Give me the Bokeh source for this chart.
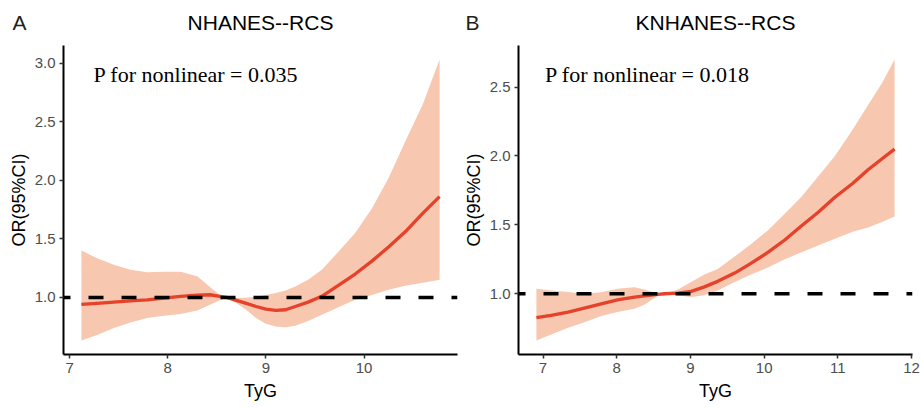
from bokeh.plotting import figure
from bokeh.layouts import row
from bokeh.models import Range1d, FixedTicker, Span, Label, Title, PrintfTickFormatter
from bokeh.embed import file_html
from bokeh.resources import INLINE

# ---- Panel A: NHANES ----
tyg_a = [7.12, 7.28, 7.45, 7.62, 7.79, 7.96, 8.13, 8.30, 8.43, 8.53, 8.60, 8.70, 8.80, 8.90,
         9.00, 9.10, 9.20, 9.30, 9.43, 9.57, 9.75, 9.91, 10.08, 10.25, 10.42, 10.60, 10.77]
or_a  = [0.94, 0.95, 0.96, 0.97, 0.98, 0.995, 1.01, 1.02, 1.023, 1.01, 1.00, 0.975, 0.95, 0.923,
         0.90, 0.889, 0.895, 0.923, 0.96, 1.01, 1.11, 1.20, 1.31, 1.43, 1.56, 1.72, 1.86]
lo_a  = [0.633, 0.68, 0.74, 0.787, 0.824, 0.844, 0.858, 0.889, 0.937, 0.975, 1.00, 0.95, 0.895, 0.824,
         0.776, 0.752, 0.745, 0.758, 0.80, 0.852, 0.92, 0.98, 1.02, 1.066, 1.10, 1.125, 1.15]
hi_a  = [1.40, 1.335, 1.28, 1.236, 1.216, 1.22, 1.22, 1.18, 1.09, 1.02, 1.00, 0.995, 0.997, 1.005,
         1.02, 1.037, 1.06, 1.094, 1.15, 1.236, 1.40, 1.55, 1.76, 2.02, 2.33, 2.65, 3.03]
xticks_a = [7, 8, 9, 10]
yticks_a = [1.0, 1.5, 2.0, 2.5, 3.0]

# ---- Panel B: KNHANES ----
tyg_b = [6.91, 7.11, 7.34, 7.56, 7.79, 8.01, 8.24, 8.38, 8.56, 8.65, 8.83, 9.01, 9.19, 9.37,
         9.60, 9.82, 10.05, 10.28, 10.50, 10.73, 10.96, 11.20, 11.41, 11.60, 11.77]
or_b  = [0.826, 0.843, 0.867, 0.896, 0.927, 0.956, 0.975, 0.985, 0.995, 1.00, 1.005, 1.017, 1.05, 1.09,
         1.15, 1.22, 1.30, 1.39, 1.49, 1.59, 1.70, 1.80, 1.90, 1.98, 2.05]
lo_b  = [0.661, 0.705, 0.753, 0.794, 0.838, 0.867, 0.891, 0.922, 0.987, 1.00, 0.988, 0.976, 0.99, 1.024,
         1.085, 1.14, 1.19, 1.25, 1.30, 1.35, 1.40, 1.45, 1.48, 1.52, 1.56]
hi_b  = [1.036, 1.024, 1.012, 1.00, 1.01, 1.036, 1.048, 1.03, 1.00, 1.00, 1.03, 1.085, 1.14, 1.18,
         1.27, 1.36, 1.46, 1.58, 1.70, 1.85, 2.00, 2.19, 2.37, 2.53, 2.70]
xticks_b = [7, 8, 9, 10, 11, 12]
yticks_b = [1.0, 1.5, 2.0, 2.5]

titles = ["NHANES--RCS", "KNHANES--RCS"]
tags = ["A", "B"]
pvals = ["P for nonlinear = 0.035", "P for nonlinear = 0.018"]

RIBBON = "#F7C7AF"
LINE = "#E6412B"
FONT = "Liberation Sans"


def expand(lo, hi, f=0.05):
    d = (hi - lo) * f
    return lo - d, hi + d


def panel(x, y, lo, hi, xt, yt, title, tag, ptxt, width, mbl, mbr, tag_offset, ptx_frac):
    x0, x1 = expand(min(x), max(x))
    y0, y1 = expand(min(lo), max(hi))
    p = figure(width=width, height=408, output_backend="svg", toolbar_location=None,
               x_range=Range1d(x0, x1), y_range=Range1d(y0, y1),
               min_border_left=mbl, min_border_right=mbr,
               min_border_top=45, min_border_bottom=54)
    p.outline_line_color = None
    p.xgrid.visible = False
    p.ygrid.visible = False
    p.background_fill_color = "white"
    p.border_fill_color = "white"

    p.title.text = title
    p.title.align = "center"
    p.title.vertical_align = "top"
    p.title.text_font = FONT
    p.title.text_font_size = "21px"
    p.title.text_font_style = "normal"
    p.title.text_color = "black"
    p.title.standoff = 20

    # panel tag, drawn in the title band at the left
    p.add_layout(Title(text=tag, align="left", vertical_align="top", offset=tag_offset,
                       standoff=-70, text_font=FONT, text_font_size="21px",
                       text_font_style="normal", text_color="#231F20"), "above")

    p.varea(x=x, y1=lo, y2=hi, fill_color=RIBBON, fill_alpha=1.0)
    p.line(x=x, y=y, line_color=LINE, line_width=3.3, line_join="round")
    p.add_layout(Span(location=1.0, dimension="width", line_color="black",
                      line_width=3.5, line_dash="15 18", line_dash_offset=8))

    for ax in (p.xaxis[0], p.yaxis[0]):
        ax.axis_line_color = "black"
        ax.axis_line_width = 2
        ax.major_tick_line_color = "#333333"
        ax.major_tick_line_width = 1.5
        ax.major_tick_out = 4
        ax.major_tick_in = 0
        ax.minor_tick_line_color = None
        ax.major_label_text_font = FONT
        ax.major_label_text_font_size = "15px"
        ax.major_label_text_color = "#4D4D4D"
        ax.axis_label_text_font = FONT
        ax.axis_label_text_font_size = "18px"
        ax.axis_label_text_font_style = "normal"
        ax.axis_label_text_color = "black"
        ax.major_label_standoff = 4
        ax.axis_label_standoff = 3
    p.xaxis[0].axis_label_standoff = 5
    p.xaxis.ticker = FixedTicker(ticks=xt)
    p.yaxis.ticker = FixedTicker(ticks=yt)
    p.yaxis.formatter = PrintfTickFormatter(format="%.1f")
    p.xaxis.axis_label = "TyG"
    p.yaxis.axis_label = "OR(95%CI)"

    # P for nonlinear annotation
    p.add_layout(Label(x=x0 + (x1 - x0) * ptx_frac, y=y1 - (y1 - y0) * 0.095, text=ptxt,
                       text_font="Liberation Serif", text_font_size="22px",
                       text_color="black", text_baseline="alphabetic", text_align="left"))
    return p


pa = panel(tyg_a, or_a, lo_a, hi_a, xticks_a, yticks_a, titles[0], tags[0], pvals[0],
           460, 63, 3, -51, 0.076)
pb = panel(tyg_b, or_b, lo_b, hi_b, xticks_b, yticks_b, titles[1], tags[1], pvals[1],
           461, 56, 9, -53, 0.067)

layout = row(pa, pb)
open("out.html", "w").write(file_html(layout, INLINE))
